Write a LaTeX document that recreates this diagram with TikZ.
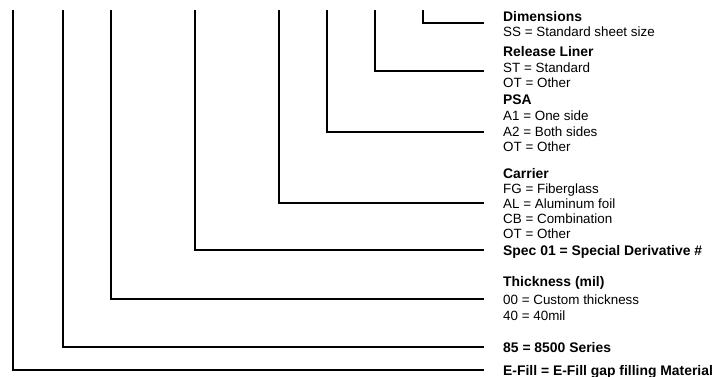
\documentclass[tikz,border=0pt]{standalone}
\usepackage{fontspec}
\setmainfont{Liberation Sans}
\begin{document}
\begin{tikzpicture}[x=1pt,y=-1pt,
  conn/.style={line width=1.5pt, line cap=rect},
  lab/.style={anchor=base west, inner sep=0pt, font=\fontsize{13.4}{15.5}\selectfont},
  head/.style={lab, font=\fontsize{13.9}{15.5}\selectfont\bfseries}]
\useasboundingbox (0,0) rectangle (721,377);
% text
\node[head] (dim) at (503,22) {Dimensions};
\node[lab] (dim1) at (503,37) {SS = Standard sheet size};
\node[head] (rl) at (503,57) {Release Liner};
\node[lab] (rl1) at (503,73) {ST = Standard};
\node[lab] (rl2) at (503,88) {OT = Other};
\node[head] (psa) at (503,105) {PSA};
\node[lab] (psa1) at (503,121) {A1 = One side};
\node[lab] (psa2) at (503,137) {A2 = Both sides};
\node[lab] (psa3) at (503,152) {OT = Other};
\node[head] (car) at (503,179) {Carrier};
\node[lab] (car1) at (503,194) {FG = Fiberglass};
\node[lab] (car2) at (503,209) {AL = Aluminum foil};
\node[lab] (car3) at (503,224) {CB = Combination};
\node[lab] (car4) at (503,239) {OT = Other};
\node[head] (spec) at (503,255) {Spec 01 = Special Derivative \#};
\node[head] (thk) at (503,287) {Thickness (mil)};
\node[lab] (thk1) at (503,304) {00 = Custom thickness};
\node[lab] (thk2) at (503,320) {40 = 40mil};
\node[head] (ser) at (503,352) {85 = 8500 Series};
\node[head] (efill) at (503,375) {E-Fill = E-Fill gap filling Material};
% connector ends
\coordinate (t1) at (13,11);  \coordinate (e1) at (483,370);
\coordinate (t2) at (63,11);  \coordinate (e2) at (483,347);
\coordinate (t3) at (111,11); \coordinate (e3) at (483,299);
\coordinate (t4) at (195,11); \coordinate (e4) at (483,250);
\coordinate (t5) at (279,11); \coordinate (e5) at (483,203);
\coordinate (t6) at (327,11); \coordinate (e6) at (483,132);
\coordinate (t7) at (375,11); \coordinate (e7) at (483,71);
\coordinate (t8) at (423,11); \coordinate (e8) at (483,23);
\foreach \i in {1,...,8} \draw[conn] (t\i) |- (e\i);
\end{tikzpicture}
\end{document}
